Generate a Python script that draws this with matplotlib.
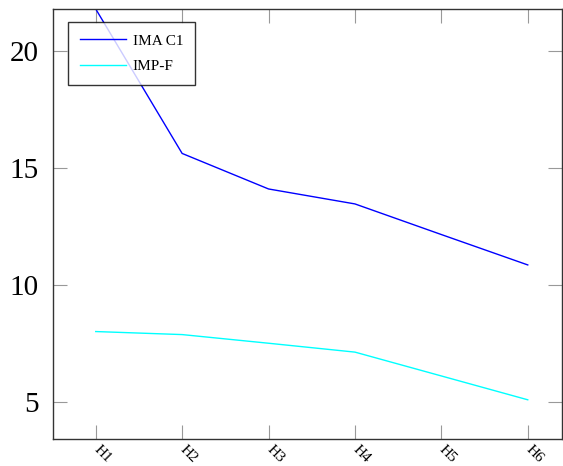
import matplotlib
matplotlib.use("Agg")
import matplotlib.pyplot as plt
import matplotlib.transforms as mtransforms

# data
labels = ["H1", "H2", "H3", "H4", "H5", "H6"]
ima_c1 = [21.8, 15.62, 14.10, 13.46, 12.15, 10.85]
imp_f = [8.0, 7.87, 7.50, 7.12, 6.10, 5.08]

plt.rcParams["font.family"] = ["Liberation Serif", "DejaVu Serif"]

fig = plt.figure(figsize=(5.63, 4.66), dpi=100)
ax = fig.add_axes([0.0933, 0.0573, 0.9055, 0.9234])

x = list(range(len(labels)))
ax.plot(x, ima_c1, color="blue", linewidth=1.0, label="IMA C1")
ax.plot(x, imp_f, color="cyan", linewidth=1.0, label="IMP-F")

ax.set_xlim(-0.5, 5.40)
ax.set_ylim(3.39, 21.8)
ax.set_xticks(x)
ax.set_xticklabels(labels, rotation=-45, ha="left", va="center",
                   rotation_mode="anchor", fontsize=11)
# nudge the rotated labels a little to the right, like the original
shift = mtransforms.ScaledTranslation(3 / 100, 0, fig.dpi_scale_trans)
for t in ax.get_xticklabels():
    t.set_transform(t.get_transform() + shift)
ax.set_yticks([5, 10, 15, 20])
ax.tick_params(axis="y", labelsize=21, pad=10)
ax.tick_params(axis="x", pad=6)
ax.tick_params(direction="in", length=10, width=0.8, color="#999999",
               top=True, right=True)

for s in ax.spines.values():
    s.set_color("#333333")
    s.set_linewidth(1.0)

leg = ax.legend(loc="upper left", bbox_to_anchor=(0.030, 0.970), borderaxespad=0,
                fontsize=11, frameon=True, fancybox=False, edgecolor="black",
                handlelength=3.0, handletextpad=0.45, borderpad=0.8,
                labelspacing=0.75)
leg.get_frame().set_linewidth(1.0)

fig.savefig("out.png", dpi=100)
